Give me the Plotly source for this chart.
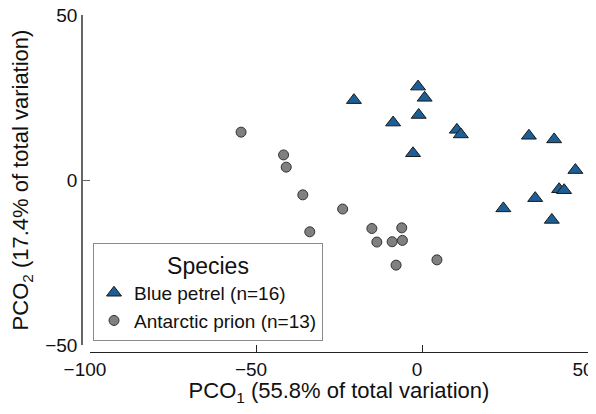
import plotly.graph_objects as go

# Blue petrel (n=16)
bp_x = [-20.5, -1.2, 0.8, -1.0, -8.7, -2.7, 10.5, 11.7, 32.2, 39.8, 46.2, 41.3, 42.8, 34.1, 24.5, 39.1]
bp_y = [24.2, 28.3, 24.9, 19.7, 17.4, 8.1, 15.2, 13.8, 13.4, 12.3, 3.0, -2.8, -3.1, -5.5, -8.6, -12.1]

# Antarctic prion (n=13)
ap_x = [-54.5, -41.7, -40.9, -35.9, -23.9, -33.8, -15.1, -6.1, -13.6, -9.0, -5.9, -7.8, 4.5]
ap_y = [14.5, 7.6, 3.9, -4.5, -8.8, -15.7, -14.7, -14.5, -18.8, -18.7, -18.3, -25.8, -24.2]

x_ticks = [-100, -50, 0, 50]
y_ticks = [-50, 0, 50]

FONT = "Liberation Sans, Arial, sans-serif"

fig = go.Figure()
fig.add_trace(go.Scatter(
    x=bp_x, y=bp_y, mode="markers", name="Blue petrel (n=16)",
    marker=dict(symbol="triangle-up", size=13, color="#1c5e95",
                line=dict(color="#1a1a1a", width=1)),
))
fig.add_trace(go.Scatter(
    x=ap_x, y=ap_y, mode="markers", name="Antarctic prion (n=13)",
    marker=dict(symbol="circle", size=10, color="#808080",
                line=dict(color="#333333", width=1)),
))

# page body adds an 8px margin on every side; keep the figure inside the window
OFF = 8
W, H = 596 - OFF, 414 - 2 * OFF
yaxis_x = 82 - OFF      # y-axis line
plot_l = 90 - OFF       # x = -100
plot_r = 588 - OFF      # x = 50
plot_t = 15 - OFF       # y = 50
plot_b = 345 - OFF      # y = -50
xaxis_y = 352 - OFF     # x-axis line

ml, mr, mt, mb = yaxis_x, W - plot_r, plot_t, H - xaxis_y
pw = W - ml - mr
ph = H - mt - mb

fig.update_layout(
    width=W, height=H,
    margin=dict(l=ml, r=mr, t=mt, b=mb, pad=0, autoexpand=False),
    paper_bgcolor="white", plot_bgcolor="white",
    font=dict(family=FONT, color="#111111", size=19),
    xaxis=dict(
        domain=[(plot_l - ml) / pw, 1], anchor="free", position=0,
        automargin=False,
        range=[-100, 50], tickvals=x_ticks, ticks="inside", ticklen=7,
        tickcolor="#222222", showline=True, linecolor="#222222", linewidth=1,
        showgrid=False, zeroline=False, tickfont=dict(size=19),
        ticklabeloverflow="allow", ticklabelshift=-5,
        title=dict(text="PCO<sub>1</sub> (55.8% of total variation)",
                   font=dict(size=22), standoff=8),
    ),
    yaxis=dict(
        domain=[(xaxis_y - plot_b) / ph, 1], anchor="free", position=0,
        automargin=False,
        range=[-50, 50], tickvals=y_ticks, ticks="inside", ticklen=7,
        tickcolor="#666666", showline=True, linecolor="#666666", linewidth=1.5,
        showgrid=False, zeroline=False, tickfont=dict(size=19),
        ticklabeloverflow="allow",
        title=dict(text="PCO<sub>2</sub> (17.4% of total variation)",
                   font=dict(size=22), standoff=12),
    ),
    legend=dict(
        x=(93 - OFF - ml) / pw, y=(xaxis_y - (341 - OFF)) / ph,
        xanchor="left", yanchor="bottom",
        bgcolor="white", bordercolor="#8a8a8a", borderwidth=1,
        font=dict(size=19), tracegroupgap=0,
        title=dict(text="Species", font=dict(size=23), side="top center"),
    ),
    showlegend=True,
)

fig.write_html("out.html")
